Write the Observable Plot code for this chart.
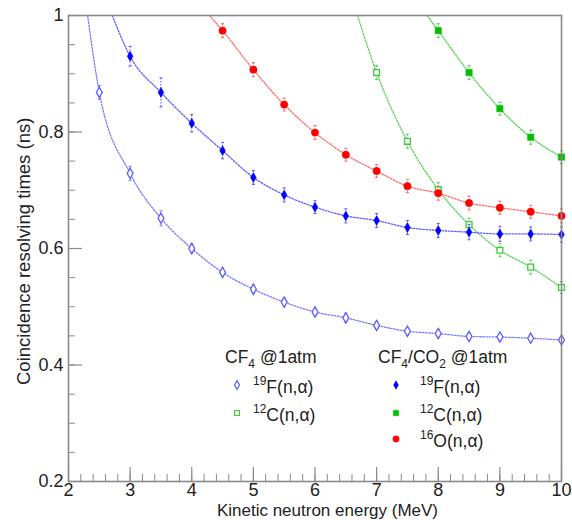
<!DOCTYPE html>
<html><head><meta charset="utf-8">
<script src="https://cdn.jsdelivr.net/npm/d3@7"></script>
<script src="https://cdn.jsdelivr.net/npm/@observablehq/plot@0.6"></script>
<style>body{margin:0;background:#fff;} #chart{width:572px;height:520px;}</style>
</head><body><div id="chart"></div>
<script>
// ---- data ----
const cf4F_x = [2.5,3,3.5,4,4.5,5,5.5,6,6.5,7,7.5,8,8.5,9,9.5,10];
const cf4F_y = [0.868,0.729,0.652,0.600,0.559,0.530,0.508,0.491,0.481,0.468,0.458,0.454,0.449,0.448,0.446,0.443];
const cf4F_e = [0.012,0.012,0.013,0.008,0.007,0.007,0.007,0.006,0.008,0.007,0.006,0.006,0.006,0.006,0.006,0.006];
const cf4F_fitStart = 2.31;

const cf4C_x = [7,7.5,8,8.5,9,9.5,10];
const cf4C_y = [0.902,0.784,0.701,0.641,0.597,0.568,0.533];
const cf4C_e = [0.012,0.012,0.012,0.011,0.011,0.012,0.010];
const cf4C_fitStart = 6.69;

const mixF_x = [3,3.5,4,4.5,5,5.5,6,6.5,7,7.5,8,8.5,9,9.5,10];
const mixF_y = [0.930,0.868,0.815,0.768,0.722,0.692,0.671,0.656,0.648,0.636,0.631,0.628,0.625,0.625,0.624];
const mixF_e = [0.017,0.025,0.015,0.014,0.012,0.012,0.011,0.012,0.012,0.012,0.012,0.013,0.013,0.012,0.013];
const mixF_fitStart = 2.71;

const mixC_x = [8,8.5,9,9.5,10];
const mixC_y = [0.974,0.902,0.840,0.791,0.757];
const mixC_e = [0.012,0.012,0.011,0.012,0.011];
const mixC_fitStart = 7.82;

const mixO_x = [4.5,5,5.5,6,6.5,7,7.5,8,8.5,9,9.5,10];
const mixO_y = [0.974,0.907,0.847,0.799,0.761,0.733,0.707,0.695,0.678,0.670,0.663,0.656];
const mixO_e = [0.012,0.012,0.011,0.012,0.011,0.011,0.011,0.012,0.012,0.011,0.011,0.012];
const mixO_fitStart = 4.29;

const xTicks = [2,3,4,5,6,7,8,9,10];
const yTicks = [0.2,0.4,0.6,0.8,1];
const xTitle = "Kinetic neutron energy (MeV)";
const yTitle = "Coincidence resolving times (ns)";

// ---- styles ----
const series = [
  {x: cf4F_x, y: cf4F_y, e: cf4F_e, start: cf4F_fitStart, color: "#5c5cff", line: "#7c7cff", symbol: "diamond", fill: false, r: 3.1},
  {x: cf4C_x, y: cf4C_y, e: cf4C_e, start: cf4C_fitStart, color: "#3ccc3c", line: "#5ad45a", symbol: "square", fill: false, r: 3.3},
  {x: mixF_x, y: mixF_y, e: mixF_e, start: mixF_fitStart, color: "#0000ff", line: "#6060ff", symbol: "diamond", fill: true, r: 3.0},
  {x: mixC_x, y: mixC_y, e: mixC_e, start: mixC_fitStart, color: "#00c000", line: "#55d055", symbol: "square", fill: true, r: 3.6},
  {x: mixO_x, y: mixO_y, e: mixO_e, start: mixO_fitStart, color: "#ff0000", line: "#ff6a6a", symbol: "circle", fill: true, r: 3.7}
];

const hline = {draw(ctx, size){ const r = Math.sqrt(size/Math.PI); ctx.moveTo(-r,0); ctx.lineTo(r,0); }};

const W = 572, H = 520, mL = 68, mR = 11, mT = 15, mB = 39;
const fw = W - mL - mR, fh = H - mT - mB;
const axisColor = "#8a8a8a";
const FONT = "'Liberation Sans', Arial, sans-serif";

const marks = [
  Plot.ruleY(d3.range(0.2, 1.0001, 0.05), {insetRight: fw - 7, stroke: axisColor, strokeWidth: 1}),
  Plot.ruleY(yTicks, {insetRight: fw - 14, stroke: axisColor, strokeWidth: 1.2}),
  Plot.ruleX(d3.range(2, 10.0001, 0.2), {insetTop: fh - 7, stroke: axisColor, strokeWidth: 1}),
  Plot.ruleX(xTicks, {insetTop: fh - 14, stroke: axisColor, strokeWidth: 1.2}),
  Plot.axisX({ticks: xTicks, tickSize: 0, tickPadding: 2, label: null, tickFormat: d => String(d), fontSize: 18, fill: "#222"}),
  Plot.axisY({ticks: yTicks, tickSize: 0, tickPadding: 5, label: null, tickFormat: d => d === 1 ? "1" : d.toFixed(1), fontSize: 18, fill: "#222"})
];

for (const s of series) {
  const rows = s.x.map((x, i) => ({x, y: s.y[i], e: s.e[i]}));
  const fit = [{x: s.start, y: 1}, ...rows];
  marks.push(Plot.line(fit, {x: "x", y: "y", curve: "monotone-x", stroke: s.line, strokeWidth: 1.3, strokeDasharray: "1.6,1.6", clip: true}));
  marks.push(Plot.ruleX(rows, {x: "x", y1: d => d.y - d.e, y2: d => d.y + d.e, stroke: s.line, strokeWidth: 1.1, strokeDasharray: "1.5,1.5", clip: true}));
  marks.push(Plot.dot(rows, {x: "x", y: d => d.y - d.e, symbol: hline, r: 1.5, stroke: s.line, strokeWidth: 1.1}));
  marks.push(Plot.dot(rows, {x: "x", y: d => d.y + d.e, symbol: hline, r: 1.5, stroke: s.line, strokeWidth: 1.1}));
  marks.push(Plot.dot(rows, {x: "x", y: "y", symbol: s.symbol, r: s.r,
    fill: s.fill ? s.color : "white", stroke: s.color, strokeWidth: s.fill ? 0.5 : 1.3}));
}

marks.push(Plot.frame({stroke: axisColor, strokeWidth: 1.6}));

const svg = Plot.plot({
  width: W, height: H,
  marginLeft: mL, marginRight: mR, marginTop: mT, marginBottom: mB,
  x: {domain: [2, 10]},
  y: {domain: [0.2, 1]},
  style: {fontFamily: FONT, background: "white", overflow: "visible"},
  marks
});
document.getElementById("chart").appendChild(svg);

// ---- axis titles and legend ----
const g = d3.select(svg).append("g")
  .style("font-family", FONT).style("text-anchor", "start").attr("fill", "#222");
g.append("text").attr("transform", "translate(30,385) rotate(-90)")
  .style("text-anchor", "start").style("font-size", "18.5px").text(yTitle);
g.append("text").attr("x", 438).attr("y", 516)
  .style("text-anchor", "end").style("font-size", "17px").text(xTitle);

function subText(x, y, parts) {
  const t = g.append("text").attr("x", x).attr("y", y).style("font-size", "17.5px").style("text-anchor", "start");
  for (const p of parts) {
    const sp = t.append("tspan").text(p.t);
    if (p.sub) sp.style("font-size", "12px");
    if (p.dy) sp.attr("dy", p.dy);
  }
}
subText(225, 363, [{t: "CF"}, {t: "4", sub: true, dy: 5}, {t: " @1atm", dy: -5}]);
subText(378, 363, [{t: "CF"}, {t: "4", sub: true, dy: 5}, {t: "/CO", dy: -5}, {t: "2", sub: true, dy: 5}, {t: " @1atm", dy: -5}]);

const legendItems = [
  {s: series[0], mx: 237, my: 385, tx: 253, iso: "19", el: "F(n,α)"},
  {s: series[1], mx: 237, my: 413, tx: 253, iso: "12", el: "C(n,α)"},
  {s: series[2], mx: 396, my: 385, tx: 420, iso: "19", el: "F(n,α)"},
  {s: series[3], mx: 396, my: 413, tx: 420, iso: "12", el: "C(n,α)"},
  {s: series[4], mx: 396, my: 439, tx: 420, iso: "16", el: "O(n,α)"}
];
const symMap = {diamond: d3.symbolDiamond, square: d3.symbolSquare, circle: d3.symbolCircle};
for (const it of legendItems) {
  const r = it.s.r * 0.85;
  g.append("path").attr("transform", `translate(${it.mx},${it.my})`)
    .attr("d", d3.symbol(symMap[it.s.symbol], Math.PI * r * r)())
    .attr("fill", it.s.fill ? it.s.color : "white").attr("stroke", it.s.color).attr("stroke-width", it.s.fill ? 0.5 : 1.2);
  const t = g.append("text").attr("x", it.tx).attr("y", it.my + 8).style("font-size", "17.5px").style("text-anchor", "start");
  t.append("tspan").style("font-size", "12px").attr("dy", -8).text(it.iso);
  t.append("tspan").attr("dy", 8).text(it.el);
}
</script>
</body></html>
